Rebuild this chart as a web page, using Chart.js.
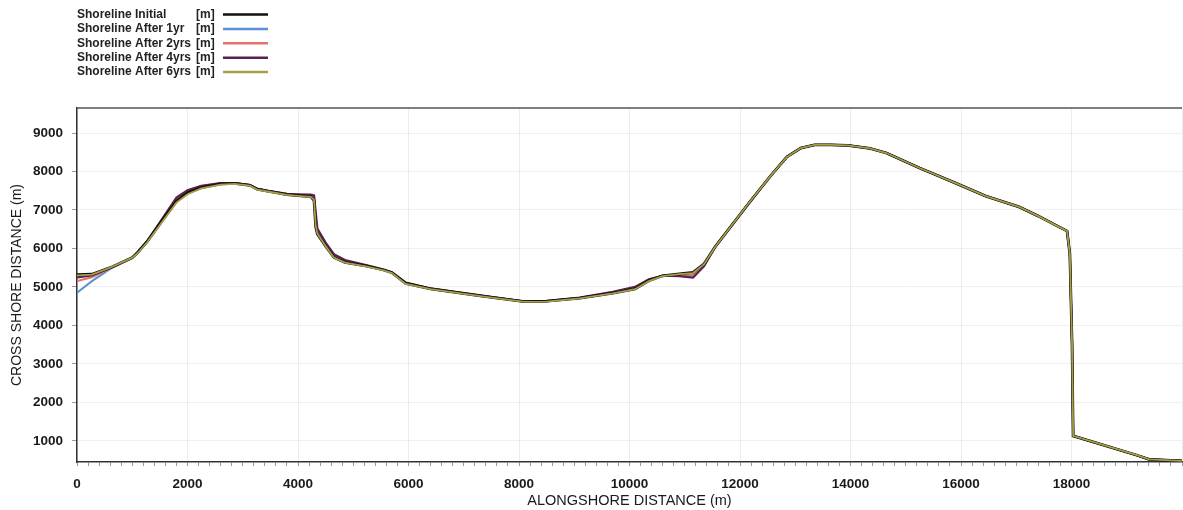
<!DOCTYPE html>
<html>
<head>
<meta charset="utf-8">
<script src="https://cdn.jsdelivr.net/npm/chart.js@4"></script>
<style>
  body { margin: 0; background: #fff; }
  #wrap { width: 1183px; height: 510px; position: relative; }
</style>
</head>
<body>
<div id="wrap"><canvas id="mainchart"></canvas></div>
<script>
// alongshore positions (m) shared by every shoreline
const alongshore = [
  0, 270, 600, 1000, 1100, 1270, 1500, 1800, 2000, 2250,
  2600, 2850, 3130, 3260, 3450, 3800, 4050, 4230, 4290, 4320,
  4350, 4500, 4650, 4850, 5250, 5550, 5700, 5950, 6400, 7300,
  8100, 8500, 9100, 9700, 10100, 10350, 10600, 10900, 11150, 11350,
  11550, 12150, 12550, 12850, 13100, 13350, 13650, 13950, 14350, 14650,
  15250, 15850, 16450, 17050, 17400, 17920, 17970, 18010, 18030, 19200,
  19400, 20000,
];

const shorelineInitial = [
  5320, 5330, 5500, 5760, 5900, 6180, 6640, 7230, 7450, 7580,
  7680, 7690, 7640, 7540, 7490, 7400, 7370, 7350, 7250, 6560,
  6380, 6060, 5770, 5640, 5540, 5440, 5370, 5090, 4950, 4770,
  4620, 4630, 4710, 4840, 4950, 5160, 5290, 5340, 5380, 5600,
  6040, 7160, 7880, 8380, 8610, 8690, 8690, 8680, 8600, 8480,
  8090, 7730, 7360, 7080, 6840, 6450, 5860, 3520, 1130, 620,
  520, 480,
];

const shorelineAfter1yr = [
  4850, 5150, 5470, 5750, 5880, 6170, 6650, 7260, 7470, 7600,
  7690, 7700, 7650, 7550, 7500, 7410, 7390, 7380, 7320, 6650,
  6420, 6080, 5780, 5650, 5540, 5440, 5370, 5100, 4950, 4770,
  4620, 4630, 4710, 4840, 4960, 5170, 5300, 5330, 5340, 5580,
  6040, 7160, 7880, 8380, 8610, 8690, 8690, 8680, 8600, 8480,
  8090, 7730, 7360, 7080, 6840, 6450, 5860, 3520, 1130, 620,
  520, 480,
];

const shorelineAfter2yrs = [
  5150, 5250, 5480, 5760, 5890, 6180, 6670, 7300, 7500, 7620,
  7700, 7700, 7650, 7550, 7500, 7420, 7400, 7390, 7350, 6800,
  6480, 6120, 5820, 5680, 5550, 5450, 5380, 5110, 4960, 4780,
  4620, 4630, 4720, 4860, 4980, 5190, 5300, 5310, 5290, 5560,
  6040, 7160, 7880, 8380, 8610, 8690, 8690, 8680, 8600, 8480,
  8090, 7730, 7360, 7080, 6840, 6450, 5860, 3520, 1130, 620,
  520, 480,
];

const shorelineAfter4yrs = [
  5250, 5300, 5490, 5770, 5900, 6190, 6680, 7320, 7510, 7630,
  7700, 7700, 7650, 7550, 7500, 7420, 7400, 7400, 7380, 6950,
  6520, 6150, 5850, 5700, 5560, 5450, 5380, 5110, 4960, 4780,
  4620, 4630, 4720, 4870, 5000, 5200, 5290, 5280, 5240, 5540,
  6040, 7160, 7880, 8380, 8610, 8690, 8690, 8680, 8600, 8480,
  8090, 7730, 7360, 7080, 6840, 6450, 5860, 3520, 1130, 620,
  520, 480,
];

const shorelineAfter6yrs = [
  5300, 5320, 5500, 5760, 5880, 6160, 6610, 7190, 7410, 7560,
  7660, 7680, 7630, 7530, 7480, 7390, 7360, 7340, 7270, 6600,
  6390, 6060, 5760, 5630, 5530, 5430, 5360, 5080, 4940, 4760,
  4610, 4620, 4700, 4830, 4940, 5150, 5280, 5330, 5360, 5590,
  6040, 7160, 7880, 8380, 8610, 8690, 8690, 8680, 8600, 8480,
  8090, 7730, 7360, 7080, 6840, 6450, 5860, 3520, 1130, 620,
  520, 480,
];

const yTickValues = [1000, 2000, 3000, 4000, 5000, 6000, 7000, 8000, 9000];

const seriesLabels = [
  "Shoreline Initial",
  "Shoreline After 1yr",
  "Shoreline After 2yrs",
  "Shoreline After 4yrs",
  "Shoreline After 6yrs",
];
const seriesValues = [
  shorelineInitial,
  shorelineAfter1yr,
  shorelineAfter2yrs,
  shorelineAfter4yrs,
  shorelineAfter6yrs,
];
const seriesColors = ["#111111", "#5b8fd6", "#e8706a", "#5a2050", "#a3a048"];
// olive on top, black just under it
const seriesOrder = [1, 4, 3, 2, 0];
const seriesWidths = [2.8, 2, 2, 2.2, 1.8];

const fontFamily = "'Liberation Sans', Arial, sans-serif";

const toPoints = (ys) => ys.map((y, i) => ({ x: alongshore[i], y: y }));

const shoreLegend = {
  id: "shoreLegend",
  afterDraw(chart) {
    const c = chart.ctx;
    c.save();
    c.font = "bold 12px " + fontFamily;
    c.textBaseline = "middle";
    seriesLabels.forEach((label, i) => {
      const y = 14.5 + i * 14.4;
      c.fillStyle = "#222";
      c.fillText(label, 77, y);
      c.fillText("[m]", 196, y);
      c.strokeStyle = seriesColors[i];
      c.lineWidth = 2.5;
      c.beginPath();
      c.moveTo(223, y);
      c.lineTo(268, y);
      c.stroke();
    });
    // frame line along the top of the plot
    const area = chart.chartArea;
    c.strokeStyle = "#555";
    c.lineWidth = 1.5;
    c.beginPath();
    c.moveTo(area.left, area.top);
    c.lineTo(area.right, area.top);
    c.stroke();
    c.restore();
  },
};

const ctx = document.getElementById("mainchart").getContext("2d");
const mainchart = new Chart(ctx, {
  type: "line",
  data: {
    datasets: seriesLabels.map((label, i) => ({
      label: label,
      data: toPoints(seriesValues[i]),
      borderColor: seriesColors[i],
      backgroundColor: seriesColors[i],
      borderWidth: seriesWidths[i],
      pointRadius: 0,
      tension: 0,
      order: seriesOrder[i],
    })),
  },
  options: {
    responsive: true,
    maintainAspectRatio: false,
    animation: false,
    layout: { padding: { top: 108, right: 1, left: 0, bottom: 0 } },
    plugins: {
      legend: { display: false },
      tooltip: { enabled: false },
    },
    scales: {
      x: {
        type: "linear",
        min: 0,
        max: 20000,
        ticks: {
          stepSize: 200,
          autoSkip: false,
          maxRotation: 0,
          padding: 10,
          color: "#1a1a1a",
          font: { family: fontFamily, size: 13.5, weight: "bold" },
          callback: (v) => (v % 2000 === 0 && v < 20000 ? v : ""),
        },
        grid: {
          color: (context) =>
            context.tick && context.tick.value % 2000 === 0 ? "rgba(0,0,0,0.07)" : "transparent",
          tickColor: "#999",
          tickLength: 4,
        },
        border: { color: "#333", width: 1.5 },
        title: {
          display: true,
          text: "ALONGSHORE DISTANCE (m)",
          color: "#1a1a1a",
          font: { family: fontFamily, size: 14.5 },
          padding: { top: 0, bottom: 0 },
        },
        afterFit: (scale) => {
          scale.height = 48;
          scale.paddingLeft = 0;
          scale.paddingRight = 0;
        },
      },
      y: {
        min: 450,
        max: 9650,
        afterBuildTicks: (scale) => {
          scale.ticks = yTickValues.map((v) => ({ value: v }));
        },
        ticks: {
          padding: 9,
          color: "#1a1a1a",
          font: { family: fontFamily, size: 13.5, weight: "bold" },
          callback: (v) => v,
        },
        grid: {
          color: "rgba(0,0,0,0.06)",
          tickColor: "#999",
          tickLength: 5,
        },
        border: { color: "#333", width: 1.5 },
        title: {
          display: true,
          text: "CROSS SHORE DISTANCE (m)",
          color: "#1a1a1a",
          font: { family: fontFamily, size: 14 },
          padding: { top: 9, bottom: 0 },
        },
        afterFit: (scale) => {
          scale.width = 77;
          scale.paddingTop = 0;
          scale.paddingBottom = 0;
        },
      },
    },
  },
  plugins: [shoreLegend],
});
</script>
</body>
</html>
